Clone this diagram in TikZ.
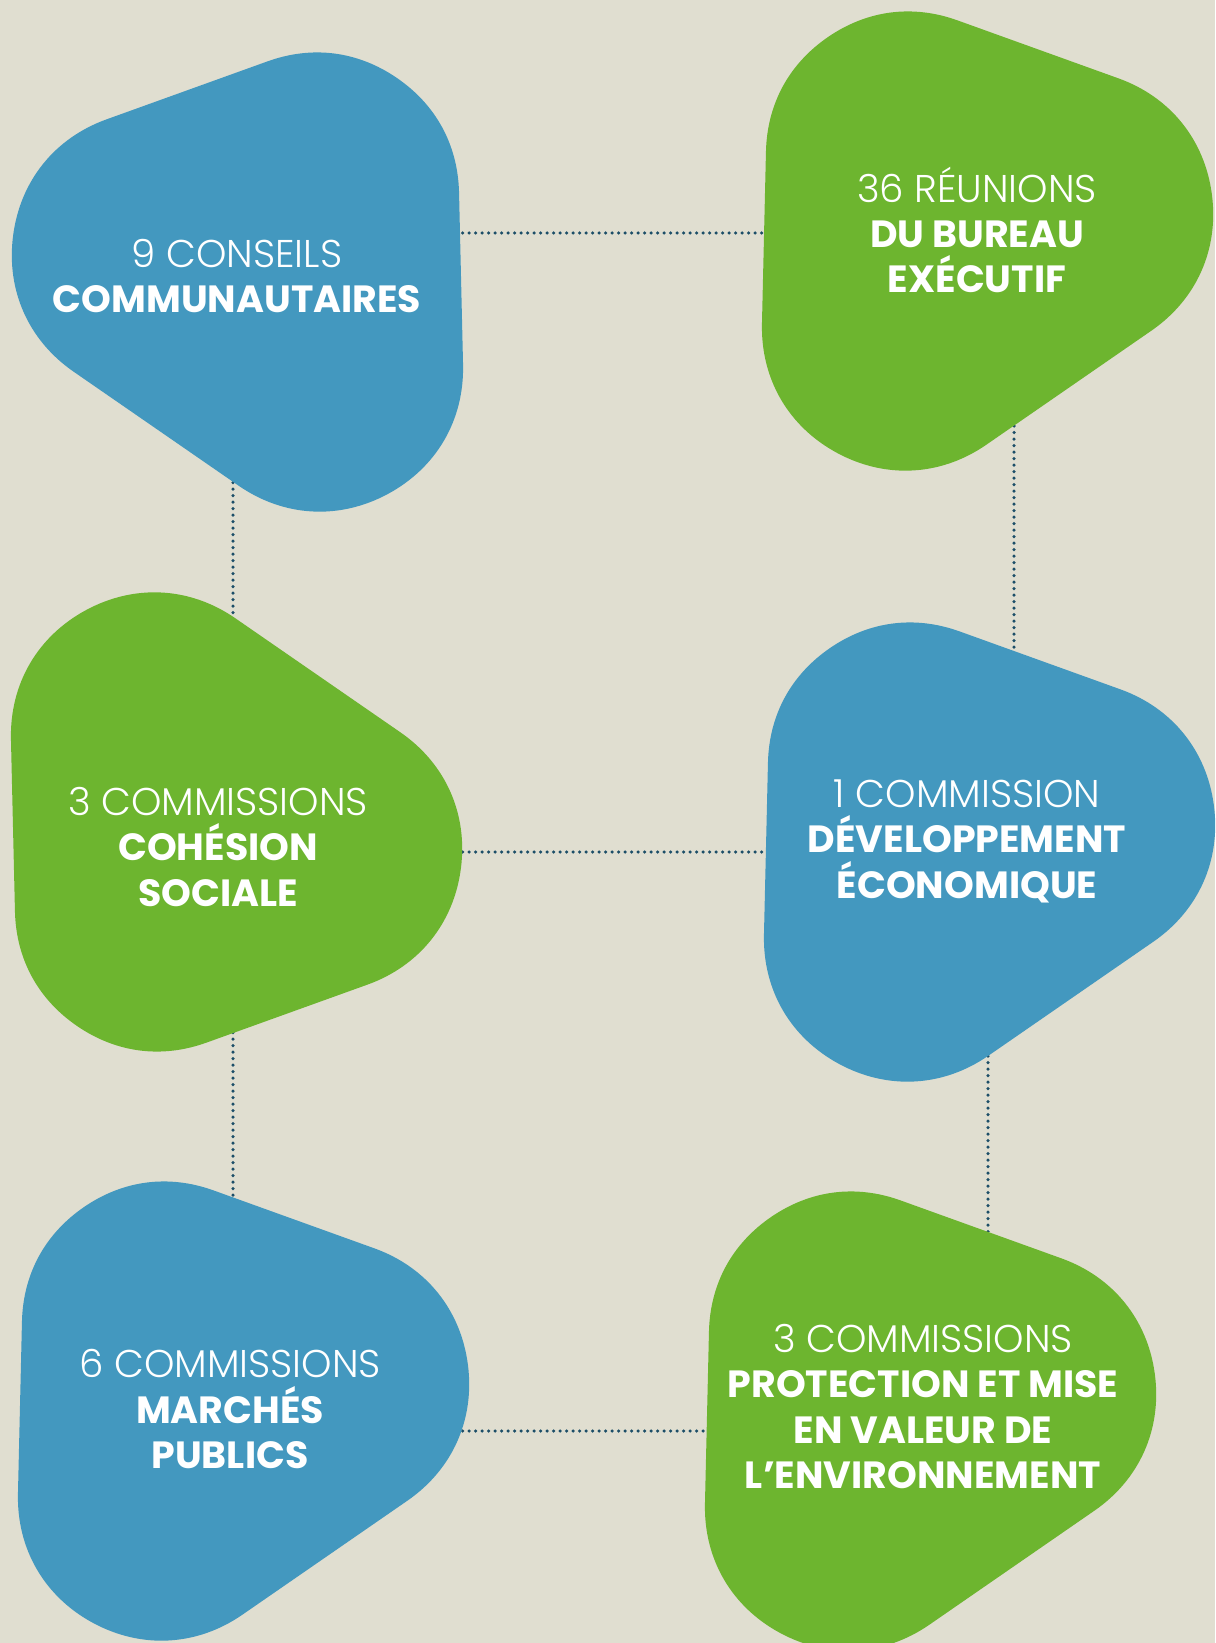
\documentclass[tikz,border=0pt]{standalone}
\usepackage{fontspec}
\setmainfont{Poppins Light}
\newfontfamily\heavy{Poppins Bold}[Scale=0.98]
\definecolor{bg}{HTML}{E0DED0}
\definecolor{blobblue}{HTML}{4398BF}
\definecolor{blobgreen}{HTML}{6DB52F}
\definecolor{dotline}{HTML}{1C4E68}
\begin{document}
\begin{tikzpicture}[x=0.01cm,y=-0.01cm,
  blob/.style={line width=2.86cm,line join=round},
  dots/.style={dotline,line width=0.035cm,line cap=round,dash pattern=on 0pt off 0.065cm},
  blobtext/.style={text=white,align=center,anchor=base,inner sep=0pt,font=\fontsize{11}{12.8}\selectfont}]
% Background
\fill[bg] (0,0) rectangle (1215,1643);
\clip (0,0) rectangle (1215,1643);

% Anchor points of the connectors (inside the blobs)
\coordinate (conseils-e) at (430,233);
\coordinate (conseils-s) at (233,450);
\coordinate (bureau-w) at (800,233);
\coordinate (bureau-s) at (1014,400);
\coordinate (cohesion-n) at (233,650);
\coordinate (cohesion-e) at (430,852);
\coordinate (cohesion-s) at (233,1000);
\coordinate (eco-n) at (1014,680);
\coordinate (eco-w) at (800,852);
\coordinate (eco-s) at (988,1030);
\coordinate (marches-n) at (233,1230);
\coordinate (marches-e) at (430,1431);
\coordinate (envir-n) at (988,1260);
\coordinate (envir-w) at (740,1431);

% Connectors
\foreach \a/\b in {conseils-e/bureau-w,conseils-s/cohesion-n,bureau-s/eco-n,cohesion-e/eco-w,cohesion-s/marches-n,eco-s/envir-n,marches-e/envir-w}
  \draw[dots] (\a) -- (\b);

% Blobs
\filldraw[blob,blobblue] (316,196) -- (320,368) -- (155,254) -- cycle; % Conseils
\filldraw[blob,blobgreen] (909,155) -- (905,327) -- (1070,213) -- cycle; % Bureau
\filldraw[blob,blobgreen] (154,736) -- (158,908) -- (319,850) -- cycle; % Cohesion
\filldraw[blob,blobblue] (911,766) -- (907,938) -- (1072,824) -- cycle; % Eco
\filldraw[blob,blobblue] (165,1325) -- (161,1497) -- (326,1383) -- cycle; % Marches
\filldraw[blob,blobgreen] (852,1335) -- (848,1507) -- (1013,1393) -- cycle; % Envir

% Labels (anchored at the baseline of the last line)
\node[blobtext] (conseils) at (237,313) {9 CONSEILS\\{\heavy COMMUNAUTAIRES}};
\node[blobtext] (bureau) at (977,293) {36 RÉUNIONS\\{\heavy DU BUREAU}\\{\heavy EXÉCUTIF}};
\node[blobtext] (cohesion) at (218,906) {3 COMMISSIONS\\{\heavy COHÉSION}\\{\heavy SOCIALE}};
\node[blobtext] (eco) at (967,898) {1 COMMISSION\\{\heavy DÉVELOPPEMENT}\\{\heavy ÉCONOMIQUE}};
\node[blobtext] (marches) at (230,1468) {6 COMMISSIONS\\{\heavy MARCHÉS}\\{\heavy PUBLICS}};
\node[blobtext] (envir) at (923,1488) {3 COMMISSIONS\\{\heavy PROTECTION ET MISE}\\{\heavy EN VALEUR DE}\\{\heavy L’ENVIRONNEMENT}};
\end{tikzpicture}
\end{document}
